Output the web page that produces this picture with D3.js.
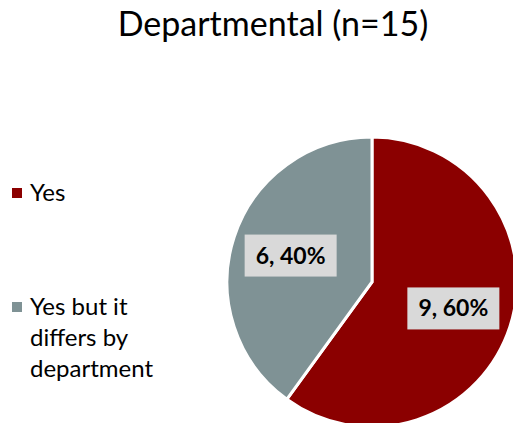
<!DOCTYPE html>
<html>
<head>
<meta charset="utf-8">
<script src="https://cdn.jsdelivr.net/npm/d3@7"></script>
<style>
  html, body { margin: 0; padding: 0; background: #fff; }
  svg { display: block; }
  text { font-family: Lato, "Open Sans", sans-serif; }
</style>
</head>
<body>
<svg id="chart" width="513" height="423"></svg>
<script>
const title = "Departmental (n=15)";
const categories = ["Yes", "Yes but it differs by department"];
const legendLines = [["Yes"], ["Yes but it", "differs by", "department"]];
const values = [9, 6];
const percents = ["60%", "40%"];
const colors = ["#8B0000", "#7F9295"];

const svg = d3.select("#chart");
const W = 513, H = 423;
const cx = 372, cy = 282, r = 145;

svg.append("text")
  .attr("x", 273).attr("y", 36)
  .attr("text-anchor", "middle")
  .attr("font-size", 34)
  .attr("fill", "#000")
  .text(title);

const pie = d3.pie().sort(null).value(d => d).startAngle(0).endAngle(2 * Math.PI);
const arcs = pie(values);
const arc = d3.arc().innerRadius(0).outerRadius(r);
const labelArc = d3.arc().innerRadius(r * 0.59).outerRadius(r * 0.59);

const g = svg.append("g").attr("transform", `translate(${cx},${cy})`);
g.selectAll("path.slice").data(arcs).join("path")
  .attr("class", "slice")
  .attr("d", arc)
  .attr("fill", (d, i) => colors[i])
  .attr("stroke", "#fff")
  .attr("stroke-width", 3)
  .attr("stroke-linejoin", "miter");

const lbl = g.selectAll("g.lbl").data(arcs).join("g")
  .attr("class", "lbl")
  .attr("transform", d => `translate(${labelArc.centroid(d)})`);
lbl.append("rect")
  .attr("x", -46).attr("y", -21).attr("width", 92).attr("height", 42)
  .attr("fill", "#D9D9D9");
lbl.append("text")
  .attr("text-anchor", "middle")
  .attr("dy", "0.35em")
  .attr("font-size", 23)
  .attr("font-weight", "bold")
  .attr("fill", "#000")
  .text((d, i) => `${values[i]}, ${percents[i]}`);

const legendY = [193, 307];
const lg = svg.selectAll("g.leg").data(categories).join("g")
  .attr("class", "leg")
  .attr("transform", (d, i) => `translate(12,${legendY[i]})`);
lg.append("rect")
  .attr("x", 0).attr("y", -5).attr("width", 10).attr("height", 10)
  .attr("fill", (d, i) => colors[i]);
lg.append("text")
  .attr("font-size", 24)
  .attr("fill", "#000")
  .selectAll("tspan").data((d, i) => legendLines[i]).join("tspan")
  .attr("x", 18)
  .attr("y", (d, j) => 8 + j * 31)
  .text(d => d);
</script>
</body>
</html>
